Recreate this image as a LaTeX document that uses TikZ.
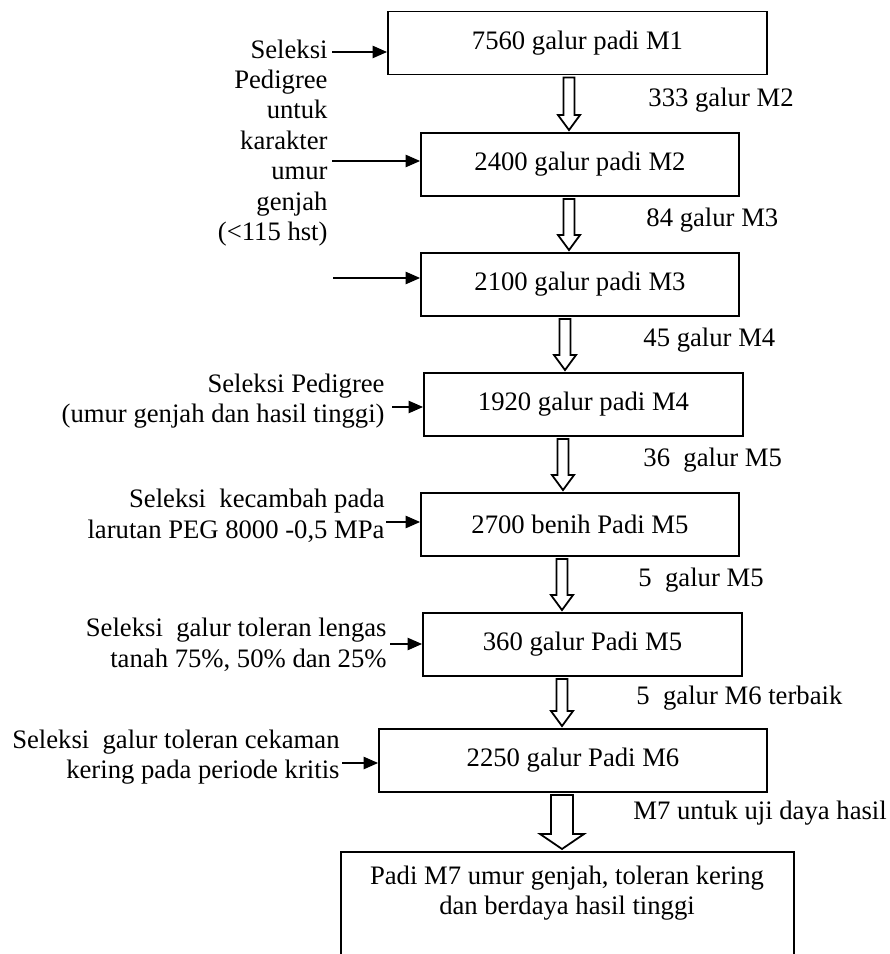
\documentclass[tikz,border=0pt]{standalone}
\usepackage{fontspec}
\setmainfont{Liberation Serif}
\usetikzlibrary{arrows.meta,calc}

\tikzset{every picture/.append style={x=0.45pt,y=-0.45pt}}
\tikzset{
  box/.style={draw, line width=0.8pt, minimum height=28.4pt, inner sep=0pt},
  note/.style={inner sep=0pt, align=right},
  count/.style={inner sep=0pt, anchor=west},
  sel/.style={line width=0.8pt, -{Triangle[length=6.5pt,width=5.5pt]}},
  hollow/.style={line width=0.8pt, line join=miter},
}

% hollow block arrow from box #1 down to box #2 at x=#3, half shaft width #4
\newcommand{\galurarrow}[4]{%
  \coordinate (gx) at (#3,0);
  \draw[hollow] ($(#1.south -| gx)+(-#4,2)$) -- ($(#2.north -| gx)+(-#4,-17)$)
    -- ++(-#4,0) -- ($(#2.north -| gx)+(0,-2)$) -- ($(#2.north -| gx)+(2*#4,-17)$)
    -- ++(-#4,0) -- ($(#1.south -| gx)+(#4,2)$) -- cycle;
}

\begin{document}
\begin{tikzpicture}[every node/.style={font=\fontsize{12}{13.7}\selectfont}]
  \useasboundingbox (0,0) rectangle (889,954);
  \clip (0,0) rectangle (889,954);

  % boxes
  \node[box, minimum width=170.6pt] (b1) at (577.5,43) {7560 galur padi M1};
  \node[box, minimum width=143.1pt] (b2) at (580,164.5) {2400 galur padi M2};
  \node[box, minimum width=143.1pt] (b3) at (580,284.5) {2100 galur padi M3};
  \node[box, minimum width=143.6pt] (b4) at (583.5,404.5) {1920 galur padi M4};
  \node[box, minimum width=143.1pt] (b5) at (580,524.5) {2700 benih Padi M5};
  \node[box, minimum width=143.6pt] (b6) at (582.5,644.5) {360 galur Padi M5};
  \node[box, minimum width=174.6pt] (b7) at (573,760.5) {2250 galur Padi M6};
  \node[box, minimum width=203.9pt, minimum height=70pt, anchor=north] (b8) at (567.5,851) {};
  \node[inner sep=0pt, align=center] (b8txt) at (567,893)
    {Padi M7 umur genjah, toleran kering\\dan berdaya hasil tinggi};

  % block arrows
  \galurarrow{b1}{b2}{569}{5.5}
  \galurarrow{b2}{b3}{569}{5.5}
  \galurarrow{b3}{b4}{565}{5.5}
  \galurarrow{b4}{b5}{563}{5.5}
  \galurarrow{b5}{b6}{562}{5.5}
  \galurarrow{b6}{b7}{562}{5.5}
  \galurarrow{b7}{b8}{562}{11}

  % counts
  \node[count] (c1) at (648,100) {333 galur M2};
  \node[count] (c2) at (646,220) {84 galur M3};
  \node[count] (c3) at (643,340) {45 galur M4};
  \node[count] (c4) at (643,460) {36~~galur M5};
  \node[count] (c5) at (638,580) {5~~galur M5};
  \node[count] (c6) at (636,698) {5~~galur M6 terbaik};
  \node[count] (c7) at (633,813) {M7 untuk uji daya hasil};

  % selection notes
  \node[note, anchor=east] (t1) at (328,143)
    {Seleksi\\Pedigree\\untuk\\karakter\\umur\\genjah\\(<115 hst)};
  \node[note, anchor=east] (t2) at (385,401)
    {Seleksi Pedigree\\(umur genjah dan hasil tinggi)};
  \node[note, anchor=east] (t3) at (385,516)
    {Seleksi~~kecambah pada\\larutan PEG 8000 -0,5 MPa};
  \node[note, anchor=east] (t4) at (387,645)
    {Seleksi~~galur toleran lengas\\tanah 75\%, 50\% dan 25\%};
  \node[note, anchor=east] (t5) at (340,757)
    {Seleksi~~galur toleran cekaman\\kering pada periode kritis};

  % selection arrows
  \coordinate (s1) at (332,52);
  \coordinate (s2) at (332,161);
  \coordinate (s3) at (333,278);
  \coordinate (s4) at (392,407);
  \coordinate (s5) at (386,522);
  \coordinate (s6) at (390,644);
  \coordinate (s7) at (342,763);
  \draw[sel] (s1) -- (s1 -| b1.west);
  \draw[sel] (s2) -- (s2 -| b2.west);
  \draw[sel] (s3) -- (s3 -| b3.west);
  \draw[sel] (s4) -- (s4 -| b4.west);
  \draw[sel] (s5) -- (s5 -| b5.west);
  \draw[sel] (s6) -- (s6 -| b6.west);
  \draw[sel] (s7) -- (s7 -| b7.west);
\end{tikzpicture}
\end{document}
